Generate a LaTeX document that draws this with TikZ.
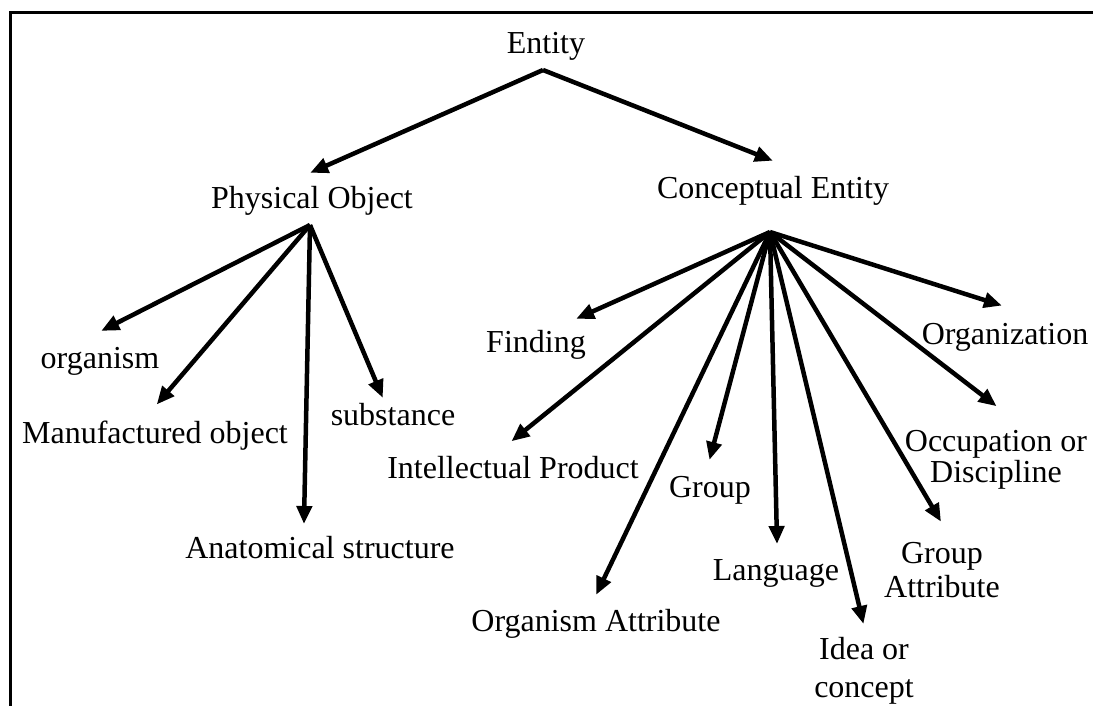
\documentclass[tikz,border=0pt]{standalone}
\usepackage{fontspec}
\setmainfont{Liberation Serif}
\usetikzlibrary{arrows.meta}
\begin{document}
\begin{tikzpicture}[x=1pt,y=-1pt,
  lbl/.style={font=\fontsize{32}{34}\selectfont, inner sep=0pt, anchor=base, align=center, text=black},
  isa/.style={line width=4.5pt, -{Triangle[length=18pt,width=15pt]}, shorten >=-2pt},
  frame/.style={line width=3pt, black}]
\useasboundingbox (0,0) rectangle (1093,706);
\fill[white] (0,0) rectangle (1093,706);
% outer frame (top and left edges)
\draw[frame] (10,712) -- (10,13) -- (1099,13);

% labels (multi-line labels are placed by the baseline of their last line)
\node[lbl] (entity) at (546,54) {Entity};
\node[lbl] (phys) at (312,208) {Physical Object};
\node[lbl] (concept) at (773,198) {Conceptual Entity};

\node[lbl] (organism) at (100,368) {organism};
\node[lbl] (manuf) at (155,443) {Manufactured object};
\node[lbl] (substance) at (393,425) {substance};
\node[lbl] (anat) at (320,558) {Anatomical structure};

\node[lbl] (finding) at (536,352) {Finding};
\node[lbl] (orgz) at (1005,344) {Organization};
\node[lbl] (intel) at (513,478) {Intellectual Product};
\node[lbl] (group) at (710,497) {Group};
\node[lbl] (occup) at (996,482) {Occupation or\\[-3pt]Discipline};
\node[lbl] (orgattr) at (596,631) {Organism Attribute};
\node[lbl] (lang) at (776,580) {Language};
\node[lbl] (gattr) at (942,597) {Group\\Attribute};
\node[lbl] (idea) at (864,697) {Idea or\\[4pt]concept};

% fan-out points and arrow tips
\coordinate (eroot) at (543,70);
\coordinate (proot) at (310,225);
\coordinate (croot) at (770,232);

\coordinate (t-phys) at (312,172);
\coordinate (t-concept) at (771,160);

\coordinate (t-organism) at (103,330);
\coordinate (t-manuf) at (158,403);
\coordinate (t-anat) at (304,522);
\coordinate (t-substance) at (382,396);

\coordinate (t-finding) at (578,318);
\coordinate (t-intel) at (513,440);
\coordinate (t-orgattr) at (597,593);
\coordinate (t-group) at (710,458);
\coordinate (t-lang) at (777,542);
\coordinate (t-idea) at (863,622);
\coordinate (t-gattr) at (940,520);
\coordinate (t-occup) at (995,405);
\coordinate (t-orgz) at (1000,305);

% connectors
\draw[isa] (eroot) -- (t-phys);
\draw[isa] (eroot) -- (t-concept);

\foreach \t in {organism,manuf,anat,substance}
  \draw[isa] (proot) -- (t-\t);

\foreach \t in {finding,intel,orgattr,group,lang,idea,gattr,occup,orgz}
  \draw[isa] (croot) -- (t-\t);
\end{tikzpicture}
\end{document}
